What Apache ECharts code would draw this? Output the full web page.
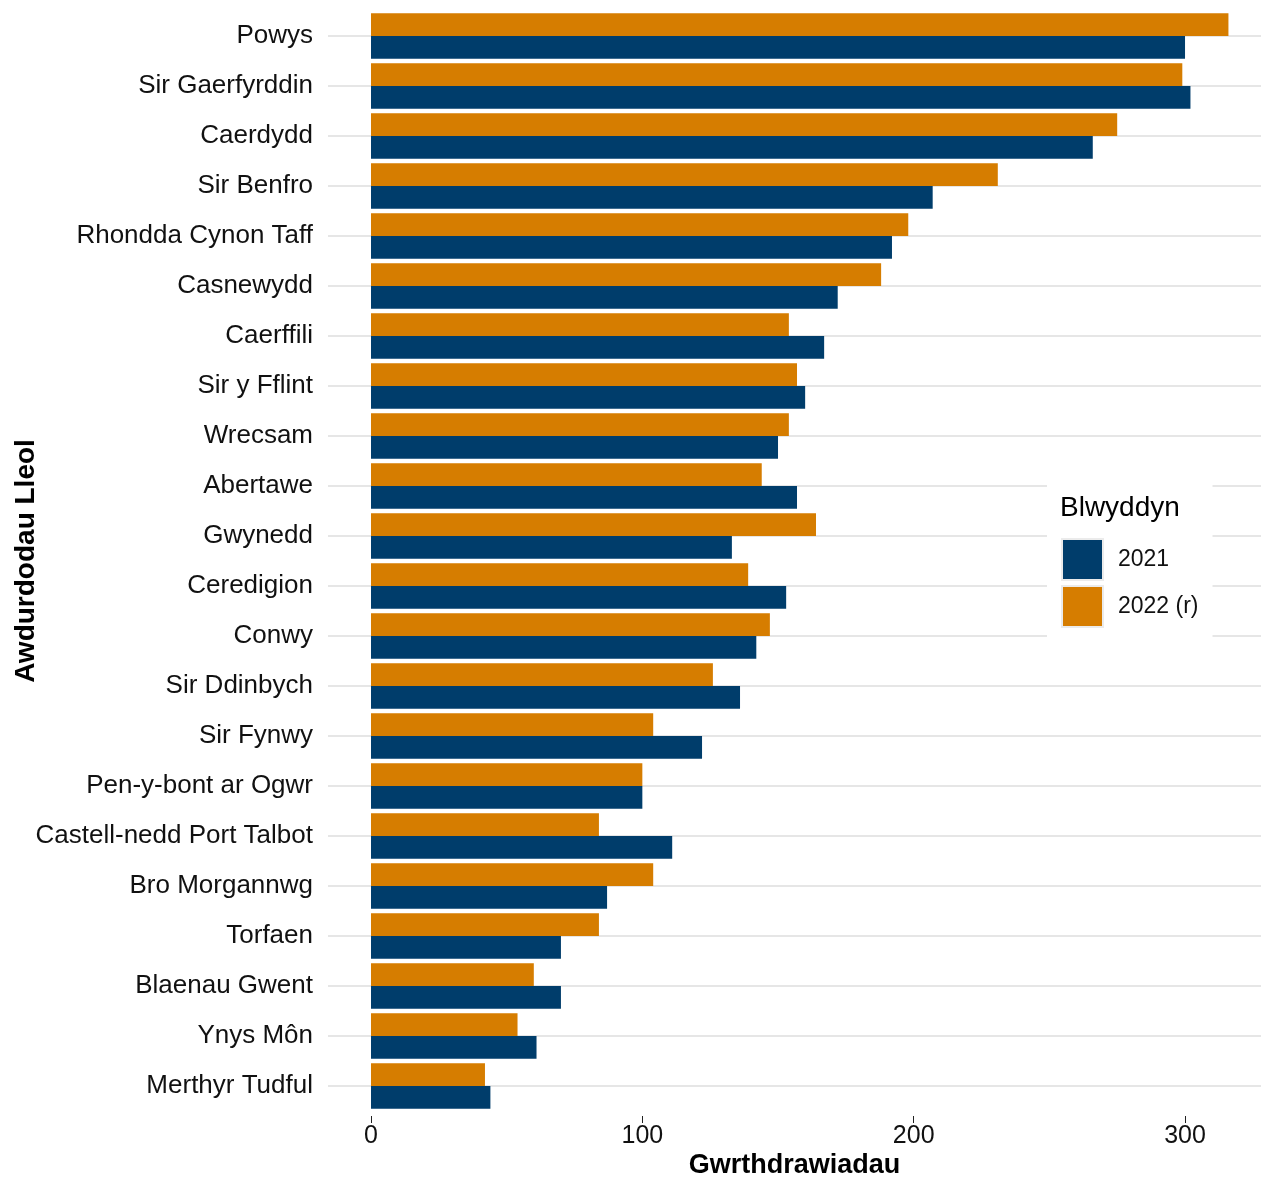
<!DOCTYPE html>
<html>
<head>
<meta charset="utf-8">
<script src="https://cdn.jsdelivr.net/npm/echarts@6/dist/echarts.min.js"></script>
<style>
html,body{margin:0;padding:0;background:#fff;}
#chart{width:1261px;height:1177px;}
</style>
</head>
<body>
<div id="chart"></div>
<script>
const categories = ["Powys","Sir Gaerfyrddin","Caerdydd","Sir Benfro","Rhondda Cynon Taff","Casnewydd","Caerffili","Sir y Fflint","Wrecsam","Abertawe","Gwynedd","Ceredigion","Conwy","Sir Ddinbych","Sir Fynwy","Pen-y-bont ar Ogwr","Castell-nedd Port Talbot","Bro Morgannwg","Torfaen","Blaenau Gwent","Ynys Môn","Merthyr Tudful"];
const values2021 = [300,302,266,207,192,172,167,160,150,157,133,153,142,136,122,100,111,87,70,70,61,44];
const values2022 = [316,299,275,231,198,188,154,157,154,144,164,139,147,126,104,100,84,104,84,60,54,42];
const xTicks = [0,100,200,300];
const seriesNames = ["2021","2022 (r)"];

const FONT = "Liberation Sans";
const chart = echarts.init(document.getElementById('chart'), null, {renderer:'canvas'});
chart.setOption({
  animation:false,
  textStyle:{fontFamily:FONT},
  grid:{left:328,right:0,top:11,bottom:66,containLabel:false,outerBoundsMode:'none'},
  xAxis:{
    type:'value', min:-15.85, max:328, offset:5,
    name:'Gwrthdrawiadau', nameLocation:'middle', nameGap:36, nameMoveOverlap:false,
    nameTextStyle:{fontFamily:FONT,fontSize:27,fontWeight:'bold',color:'#000'},
    axisLine:{show:false},
    axisTick:{show:true,customValues:xTicks,length:7,lineStyle:{color:'#222',width:1}},
    axisLabel:{customValues:xTicks,fontFamily:FONT,fontSize:25,color:'#111',margin:8},
    splitLine:{show:false}
  },
  yAxis:{
    type:'category', data:categories, inverse:true,
    name:'Awdurdodau Lleol', nameLocation:'middle', nameGap:288, nameRotate:90, nameMoveOverlap:false,
    nameTextStyle:{fontFamily:FONT,fontSize:28,fontWeight:'bold',color:'#000'},
    axisLine:{show:false}, axisTick:{show:false},
    axisLabel:{fontFamily:FONT,fontSize:26,color:'#111',margin:15},
    splitLine:{show:false}
  },
  legend:{
    orient:'vertical', left:1047, top:485,
    data:seriesNames,
    icon:'rect', itemWidth:41, itemHeight:41, itemGap:4,
    backgroundColor:'#fff',
    padding:[53,14,12,14],
    itemStyle:{borderColor:'#ebebeb',borderWidth:2},
    textStyle:{fontFamily:FONT,fontSize:23,color:'#111',padding:[0,0,0,10]}
  },
  graphic:[{type:'text',left:1060,top:494,z:100,
    style:{text:'Blwyddyn',font:'28px "Liberation Sans"',fill:'#000'}}],
  series:[
    {name:'gridlines', type:'line', data:[], silent:true, z:0,
     markLine:{silent:true,symbol:'none',z:0,label:{show:false},animation:false,
       lineStyle:{color:'#dedede',width:1.5,type:'solid'},
       data:categories.map(c=>({yAxis:c}))}},
    {name:'2022 (r)', type:'bar', data:values2022, itemStyle:{color:'#D67D00'},
     barGap:'0%', barCategoryGap:'9%'},
    {name:'2021', type:'bar', data:values2021, itemStyle:{color:'#003D6B'},
     barGap:'0%', barCategoryGap:'9%'}
  ]
});
</script>
</body>
</html>
